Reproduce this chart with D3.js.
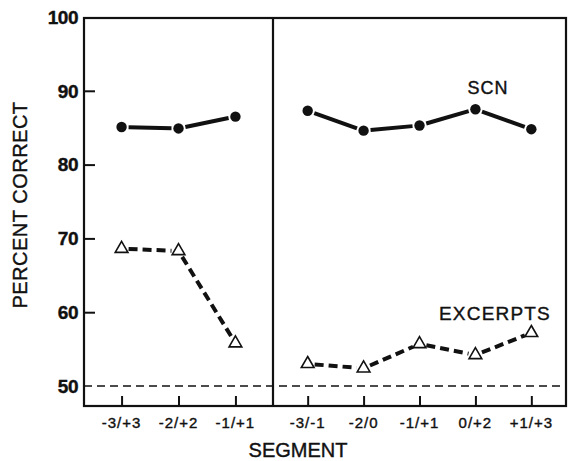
<!DOCTYPE html>
<html>
<head>
<meta charset="utf-8">
<script src="https://cdn.jsdelivr.net/npm/d3@7"></script>
<style>
  body { margin: 0; background: #fff; }
  text { font-family: "Liberation Sans", Arial, sans-serif; fill: #111; stroke: #111; stroke-width: 0.4; }
</style>
</head>
<body>
<script>
var leftSegments = ["-3/+3", "-2/+2", "-1/+1"];
var rightSegments = ["-3/-1", "-2/0", "-1/+1", "0/+2", "+1/+3"];
var scnLeft = [85.1, 84.9, 86.5];
var scnRight = [87.3, 84.6, 85.3, 87.5, 84.8];
var excLeft = [68.6, 68.3, 55.8];
var excRight = [53.0, 52.4, 55.7, 54.2, 57.2];
var yTicks = [50, 60, 70, 80, 90, 100];
var chance = 50;

var width = 568, height = 461;
var frame = {left: 84, right: 566, top: 18, bottom: 406, divider: 273};

var svg = d3.select("body").append("svg")
    .attr("width", width)
    .attr("height", height);

var y = d3.scaleLinear()
    .domain([50, 100])
    .range([386, 17]);

var xLeft = d3.scalePoint()
    .domain(leftSegments)
    .range([frame.left, frame.divider])
    .padding(0.66);

var xRight = d3.scalePoint()
    .domain(rightSegments)
    .range([frame.divider, frame.right])
    .padding(0.62);

// frame
svg.append("rect")
    .attr("x", frame.left)
    .attr("y", frame.top)
    .attr("width", frame.right - frame.left)
    .attr("height", frame.bottom - frame.top)
    .attr("fill", "none")
    .attr("stroke", "#111")
    .attr("stroke-width", 2.2);

svg.append("line")
    .attr("x1", frame.divider).attr("x2", frame.divider)
    .attr("y1", frame.top).attr("y2", frame.bottom)
    .attr("stroke", "#111")
    .attr("stroke-width", 2.2);

// chance line
svg.append("line")
    .attr("x1", frame.left).attr("x2", frame.right)
    .attr("y1", y(chance)).attr("y2", y(chance))
    .attr("stroke", "#111")
    .attr("stroke-width", 1.3)
    .attr("stroke-dasharray", "8,5");

// y axis
var yAxis = d3.axisRight(y)
    .tickValues(yTicks.slice(1, -1))
    .tickSize(11)
    .tickFormat("");

svg.append("g")
    .attr("transform", "translate(" + frame.left + ",0)")
    .call(yAxis)
    .call(function(g) {
        g.select(".domain").remove();
        g.selectAll("line").attr("stroke", "#111").attr("stroke-width", 2);
    });

svg.append("g").selectAll("text")
    .data(yTicks)
    .join("text")
    .attr("x", 78)
    .attr("y", function(d) { return y(d); })
    .attr("dy", "0.36em")
    .attr("text-anchor", "end")
    .attr("font-size", 19)
    .attr("font-weight", "bold")
    .attr("letter-spacing", -0.5)
    .text(function(d) { return d; });

// x axes
function xAxisPanel(scale) {
    var g = svg.append("g")
        .attr("transform", "translate(0," + frame.bottom + ")")
        .call(d3.axisTop(scale).tickSize(10).tickFormat(""));
    g.select(".domain").remove();
    g.selectAll("line").attr("stroke", "#111").attr("stroke-width", 2);

    svg.append("g").selectAll("text")
        .data(scale.domain())
        .join("text")
        .attr("x", function(d) { return scale(d); })
        .attr("y", 428)
        .attr("text-anchor", "middle")
        .attr("font-size", 15)
        .attr("letter-spacing", 1)
        .text(function(d) { return d; });
}
xAxisPanel(xLeft);
xAxisPanel(xRight);

// series, drawn as segments with small gaps near the markers
function series(scale, values, dashed, marker) {
    var pts = scale.domain().map(function(d, i) { return [scale(d), y(values[i])]; });
    var gap = 7;
    var segs = d3.pairs(pts).map(function(p) {
        var dx = p[1][0] - p[0][0], dy = p[1][1] - p[0][1];
        var len = Math.sqrt(dx * dx + dy * dy);
        var ux = dx / len, uy = dy / len;
        return [[p[0][0] + ux * gap, p[0][1] + uy * gap], [p[1][0] - ux * gap, p[1][1] - uy * gap]];
    });
    svg.append("g").selectAll("path")
        .data(segs)
        .join("path")
        .attr("d", d3.line())
        .attr("fill", "none")
        .attr("stroke", "#111")
        .attr("stroke-width", 4)
        .attr("stroke-dasharray", dashed ? "9,5" : null);

    var sym = marker === "circle"
        ? d3.symbol().type(d3.symbolCircle).size(85)
        : d3.symbol().type(d3.symbolTriangle).size(70);
    svg.append("g").selectAll("path")
        .data(pts)
        .join("path")
        .attr("transform", function(d) { return "translate(" + d[0] + "," + d[1] + ")"; })
        .attr("d", sym)
        .attr("fill", marker === "circle" ? "#111" : "#fff")
        .attr("stroke", "#111")
        .attr("stroke-width", marker === "circle" ? 0 : 1.6);
}
series(xLeft, scnLeft, false, "circle");
series(xRight, scnRight, false, "circle");
series(xLeft, excLeft, true, "triangle");
series(xRight, excRight, true, "triangle");

// labels
svg.append("text")
    .attr("x", 488).attr("y", 94)
    .attr("text-anchor", "middle")
    .attr("font-size", 18)
    .attr("letter-spacing", 1)
    .text("SCN");

svg.append("text")
    .attr("x", 551).attr("y", 320)
    .attr("text-anchor", "end")
    .attr("font-size", 19)
    .attr("letter-spacing", 1.2)
    .text("EXCERPTS");

svg.append("text")
    .attr("x", 298).attr("y", 457)
    .attr("text-anchor", "middle")
    .attr("font-size", 20)
    .text("SEGMENT");

svg.append("text")
    .attr("transform", "translate(27,205) rotate(-90)")
    .attr("text-anchor", "middle")
    .attr("font-size", 20)
    .attr("letter-spacing", 0.5)
    .text("PERCENT CORRECT");
</script>
</body>
</html>
